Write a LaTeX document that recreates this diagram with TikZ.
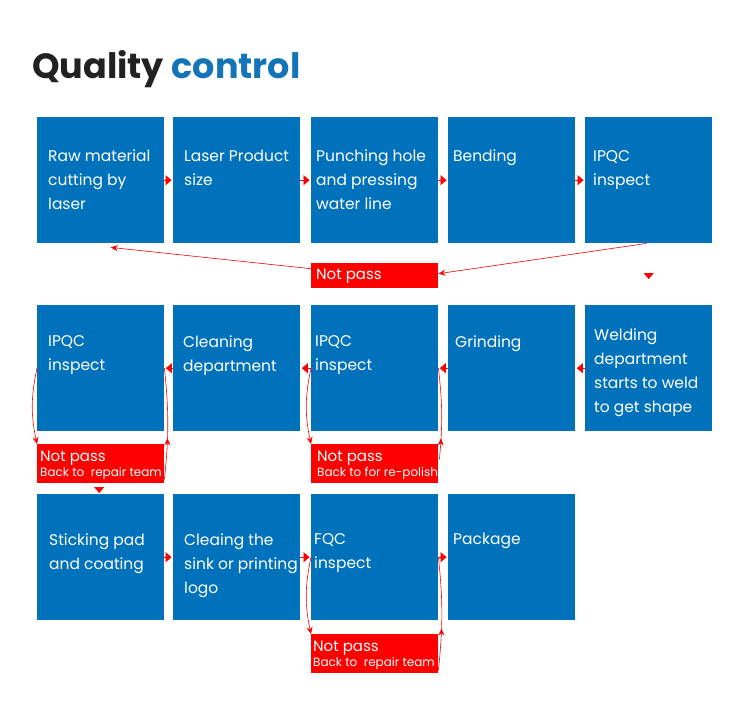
\documentclass[tikz,border=0pt]{standalone}
\usepackage{fontspec}
\setmainfont{Poppins}
\usetikzlibrary{arrows.meta,decorations.markings}
\definecolor{qcblue}{RGB}{0,114,187}
\definecolor{qctitle}{RGB}{19,116,184}
\definecolor{qcred}{RGB}{255,0,0}
\definecolor{qcdark}{RGB}{34,34,34}

\tikzset{
  stepbox/.style={fill=qcblue, anchor=north west, minimum width=127pt, minimum height=126pt, inner sep=0pt},
  failbox/.style={fill=qcred, anchor=north west, minimum width=127pt, minimum height=#1, inner sep=0pt},
  steptext/.style={anchor=north west, inner sep=0pt, align=left, text=white, font=\fontsize{15.5}{24}\selectfont},
  failtext/.style={anchor=north west, inner sep=0pt, align=left, text=white, font=\fontsize{15}{15}\selectfont},
  flow/.style={qcred, line width=0.1pt, shorten >=1.5pt, -{Triangle[length=6pt,width=10pt]}},
  back/.style={qcred, line width=0.6pt, -{Stealth[length=7pt,width=6pt]}},
  backup/.style={qcred, line width=0.6pt, postaction={decorate},
    decoration={markings, mark=at position #1 with {\arrow{Stealth[length=7pt,width=6pt]}}}},
}

\newcommand{\smalltxt}{\fontsize{12}{15}\selectfont}

\begin{document}
\begin{tikzpicture}[x=1pt, y=-1pt]
    \fill[white] (0,0) rectangle (750,715);
    \useasboundingbox (0,0) rectangle (750,715);

    \node[anchor=base west, inner sep=0pt, font=\fontsize{35}{40}\selectfont\bfseries] (title) at (32,78)
        {\textcolor{qcdark}{Quality} \textcolor{qctitle}{control}};

    % row 1
    \node[stepbox] (b1) at (37,117) {};
    \node[stepbox] (b2) at (173,117) {};
    \node[stepbox] (b3) at (311,117) {};
    \node[stepbox] (b4) at (448,117) {};
    \node[stepbox] (b5) at (585,117) {};
    \node[steptext] (t1) at (48,150) {Raw material\\cutting by\\laser};
    \node[steptext] (t2) at (184,150) {Laser Product\\size};
    \node[steptext] (t3) at (316,150) {Punching hole\\and pressing\\water line};
    \node[steptext] (t4) at (453,150) {Bending};
    \node[steptext] (t5) at (593,150) {IPQC\\inspect};

    % row 2
    \node[stepbox] (b6) at (37,305) {};
    \node[stepbox] (b7) at (173,305) {};
    \node[stepbox] (b8) at (311,305) {};
    \node[stepbox] (b9) at (448,305) {};
    \node[stepbox] (b10) at (585,305) {};
    \node[steptext] (t6) at (48,335) {IPQC\\inspect};
    \node[steptext] (t7) at (183,335) {Cleaning\\department};
    \node[steptext] (t8) at (315,335) {IPQC\\inspect};
    \node[steptext] (t9) at (455,335) {Grinding};
    \node[steptext] (t10) at (594,328) {Welding\\department\\starts to weld\\to get shape};

    % row 3
    \node[stepbox] (b11) at (37,494) {};
    \node[stepbox] (b12) at (173,494) {};
    \node[stepbox] (b13) at (311,494) {};
    \node[stepbox] (b14) at (448,494) {};
    \node[steptext] (t11) at (49,533) {Sticking pad\\and coating};
    \node[steptext] (t12) at (184,533) {Cleaing the\\sink or printing\\logo};
    \node[steptext] (t13) at (314,533) {FQC\\inspect};
    \node[steptext] (t14) at (453,533) {Package};

    % not pass boxes
    \node[failbox=25pt] (f1) at (311,263) {};
    \node[failbox=39pt] (f2) at (37,444) {};
    \node[failbox=39pt] (f3) at (311,444) {};
    \node[failbox=39pt] (f4) at (311,634) {};
    \node[failtext] (n1) at (316,269) {Not pass};
    \node[failtext] (n2) at (40,451) {Not pass\\{\smalltxt Back to~ repair team}};
    \node[failtext] (n3) at (317,451) {Not pass\\{\smalltxt Back to for re-polish}};
    \node[failtext] (n4) at (313,641) {Not pass\\{\smalltxt Back to~ repair team}};

    % flow
    \draw[flow] (b1.east) -- (b2.west);
    \draw[flow] (b2.east) -- (b3.west);
    \draw[flow] (b3.east) -- (b4.west);
    \draw[flow] (b4.east) -- (b5.west);
    \draw[flow, shorten <=30pt, shorten >=26pt] (b5.south) -- (b10.north);
    \draw[flow] (b10.west) -- (b9.east);
    \draw[flow] (b9.west) -- (b8.east);
    \draw[flow] (b8.west) -- (b7.east);
    \draw[flow] (b7.west) -- (b6.east);
    \draw[flow, shorten <=4pt, shorten >=1pt] ([xshift=-1.5pt]f2.south) -- ([xshift=-1.5pt]b11.north);
    \draw[flow] (b11.east) -- (b12.west);
    \draw[flow] (b12.east) -- (b13.west);
    \draw[flow] (b13.east) -- (b14.west);

    % not pass loops
    \draw[back] ([xshift=-2pt]b5.south) -- ([yshift=2pt]f1.east);
    \draw[back] ([yshift=7pt]f1.west) -- ([xshift=10pt,yshift=-4pt]b1.south);
    \draw[back] (b6.west) to[bend right=12] (f2.north west);
    \draw[backup=0.37] ([yshift=4pt]f2.south east) to[bend right=6] (b6.east);
    \draw[back] (b8.west) to[bend right=12] (f3.north west);
    \draw[backup=0.23] ([xshift=1pt,yshift=24pt]f3.south east) to[bend right=6] (b8.east);
    \draw[back] (b13.west) to[bend right=12] (f4.north west);
    \draw[backup=0.37] ([yshift=3pt]f4.south east) to[bend right=6] (b13.east);
\end{tikzpicture}
\end{document}
